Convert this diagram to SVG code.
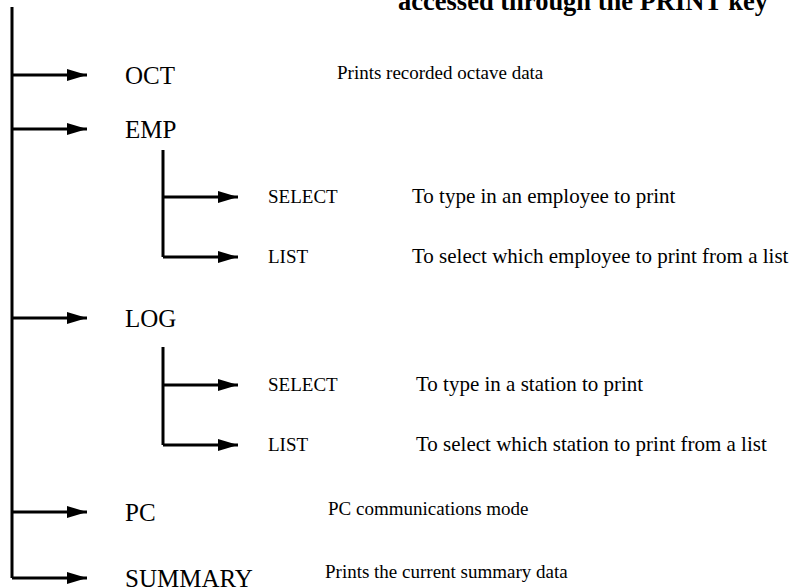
<svg xmlns="http://www.w3.org/2000/svg" width="804" height="587" viewBox="0 0 804 587">
  <style>
    .ln { stroke: #000; stroke-width: 3; fill: none; }
    .big { font-family: "Liberation Serif", "Times New Roman", serif; font-size: 25px; fill: #000; }
    .sub { font-family: "Liberation Serif", "Times New Roman", serif; font-size: 19px; fill: #000; }
    .desc { font-family: "Liberation Serif", "Times New Roman", serif; font-size: 21px; fill: #000; }
    .note { font-family: "Liberation Serif", "Times New Roman", serif; font-size: 19px; fill: #000; }
    .title { font-family: "Liberation Serif", "Times New Roman", serif; font-size: 26.5px; font-weight: bold; fill: #000; }
  </style>
  <defs>
    <marker id="arrow" markerWidth="20" markerHeight="12" refX="20" refY="6" orient="auto" markerUnits="userSpaceOnUse">
      <path d="M0,0 L20,6 L0,12 Z" fill="#000"/>
    </marker>
  </defs>

  <text class="title" x="398" y="10">accessed through the PRINT key</text>

  <g id="connectors">
    <path class="ln" d="M12,7 V578"/>
    <path class="ln" d="M12,75 H87" marker-end="url(#arrow)"/>
    <path class="ln" d="M12,129 H87" marker-end="url(#arrow)"/>
    <path class="ln" d="M12,318 H87" marker-end="url(#arrow)"/>
    <path class="ln" d="M12,512 H87" marker-end="url(#arrow)"/>
    <path class="ln" d="M12,578 H87" marker-end="url(#arrow)"/>
    <path class="ln" d="M163,150 V257"/>
    <path class="ln" d="M163,197 H238" marker-end="url(#arrow)"/>
    <path class="ln" d="M163,257 H238" marker-end="url(#arrow)"/>
    <path class="ln" d="M163,347 V445"/>
    <path class="ln" d="M163,385 H238" marker-end="url(#arrow)"/>
    <path class="ln" d="M163,445 H238" marker-end="url(#arrow)"/>
  </g>

  <g id="oct"><text class="big" x="125" y="84">OCT</text><text class="note" x="337" y="79">Prints recorded octave data</text></g>
  <g id="emp"><text class="big" x="125" y="138">EMP</text></g>
  <g id="emp-select"><text class="sub" x="268" y="203">SELECT</text><text class="desc" x="412" y="203">To type in an employee to print</text></g>
  <g id="emp-list"><text class="sub" x="268" y="263">LIST</text><text class="desc" x="412" y="263">To select which employee to print from a list</text></g>
  <g id="log"><text class="big" x="125" y="327">LOG</text></g>
  <g id="log-select"><text class="sub" x="268" y="391">SELECT</text><text class="desc" x="416" y="391">To type in a station to print</text></g>
  <g id="log-list"><text class="sub" x="268" y="451">LIST</text><text class="desc" x="416" y="451">To select which station to print from a list</text></g>
  <g id="pc"><text class="big" x="125" y="521">PC</text><text class="note" x="328" y="515">PC communications mode</text></g>
  <g id="summary"><text class="big" x="125" y="587">SUMMARY</text><text class="note" x="325" y="578">Prints the current summary data</text></g>
</svg>
